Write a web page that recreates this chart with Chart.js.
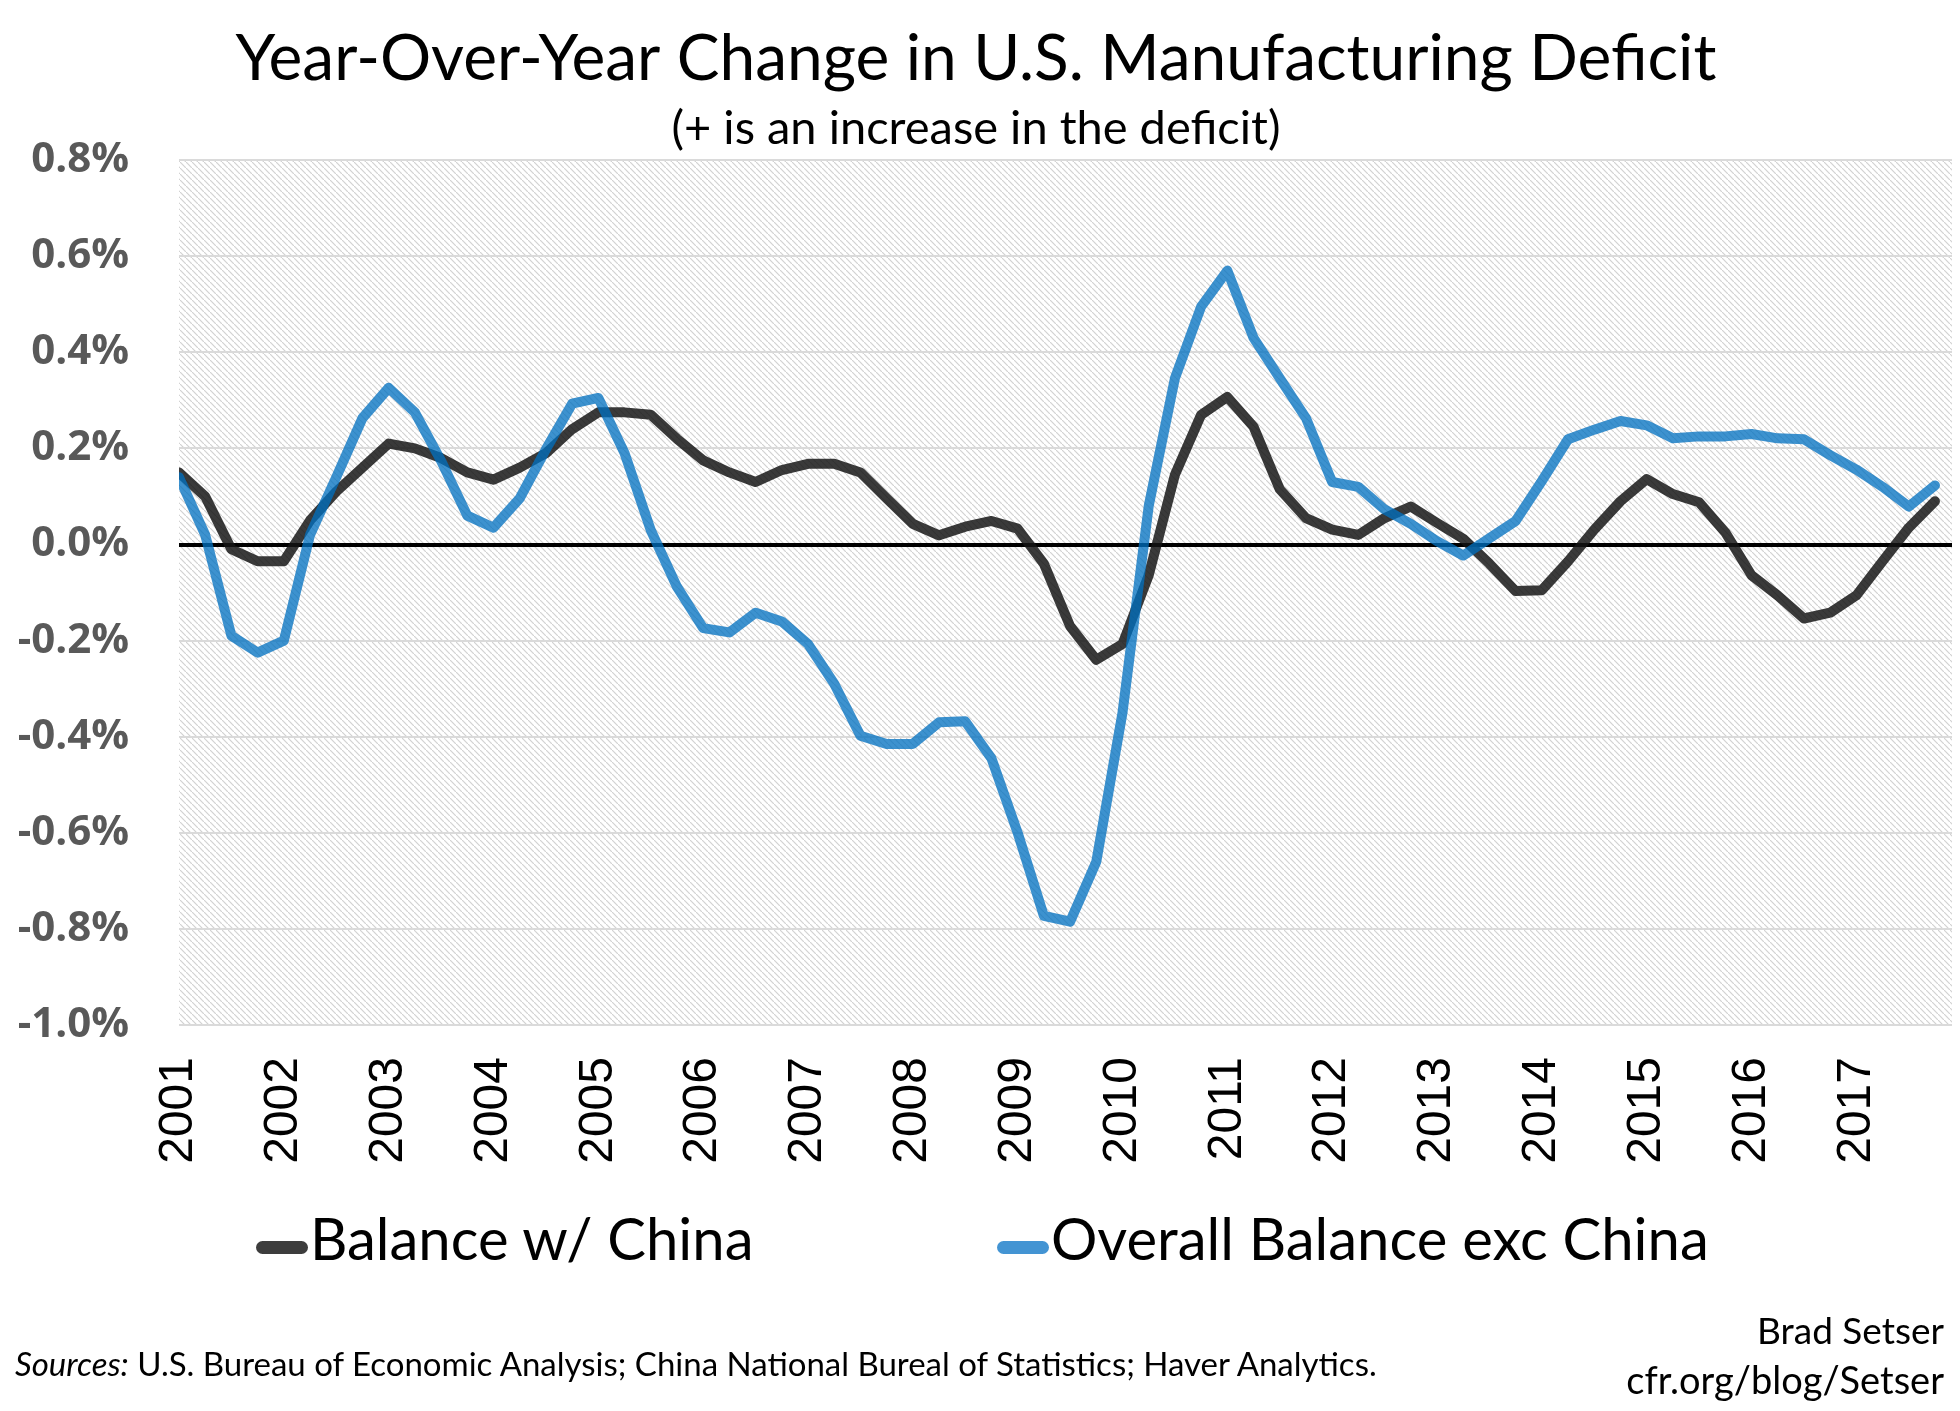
<!DOCTYPE html>
<html lang="en">
<head>
<meta charset="UTF-8">
<title>Year-Over-Year Change in U.S. Manufacturing Deficit</title>
<script src="https://cdn.jsdelivr.net/npm/chart.js"></script>
<style>
  html, body { margin: 0; padding: 0; background: #fff; }
  #wrap { position: relative; width: 1960px; height: 1411px; overflow: hidden; }
  #chart { position: absolute; left: 0; top: 0; }
  .legend-item { position: absolute; top: 1209px; display: flex; align-items: center; white-space: nowrap;
                 font-family: Lato, sans-serif; font-size: 58px; line-height: 1; color: #000; }
  .legend-item .mark { width: 52px; height: 13px; border-radius: 7px; margin-right: 2px; position: relative; top: 9px; }
  .note { position: absolute; font-family: Lato, sans-serif; line-height: 1; color: #000; white-space: nowrap; }
</style>
</head>
<body>
<div id="wrap">
  <canvas id="chart" width="1960" height="1411"></canvas>

  <div class="legend-item" style="left:256px;"><span class="mark" style="background:#3d3d3d;"></span>Balance w/ China</div>
  <div class="legend-item" style="left:997px;"><span class="mark" style="background:#4394d3;"></span>Overall Balance exc China</div>

  <div class="note" style="left:15px; top:1347px; font-size:33px;"><i>Sources:</i> U.S. Bureau of Economic Analysis; China National Bureal of Statistics; Haver Analytics.</div>
  <div class="note" style="right:16px; top:1311px; font-size:37px; text-align:right;">Brad Setser</div>
  <div class="note" style="right:16px; top:1360px; font-size:38px; text-align:right;">cfr.org/blog/Setser</div>
</div>

<script>
// tick labels, one per year (first quarter)
const years = ['2001', '2002', '2003', '2004', '2005', '2006', '2007', '2008', '2009',
               '2010', '2011', '2012', '2013', '2014', '2015', '2016', '2017'];

// quarterly categories 2001 Q1 .. 2017 Q4
const quarters = years.flatMap(y => [y + ' Q1', y + ' Q2', y + ' Q3', y + ' Q4']);

// % of GDP, year-over-year change
const balanceChina = [
  0.15, 0.10, -0.01, -0.035, -0.035, 0.05, 0.11, 0.16,
  0.21, 0.20, 0.18, 0.15, 0.135, 0.16, 0.19, 0.24,
  0.275, 0.275, 0.27, 0.22, 0.175, 0.15, 0.13, 0.155,
  0.168, 0.168, 0.15, 0.096, 0.043, 0.019, 0.037, 0.049,
  0.033, -0.04, -0.17, -0.24, -0.207, -0.064, 0.145, 0.27,
  0.307, 0.245, 0.115, 0.055, 0.031, 0.02, 0.055, 0.079,
  0.045, 0.012, -0.04, -0.097, -0.095, -0.035, 0.031, 0.09,
  0.136, 0.105, 0.088, 0.025, -0.064, -0.106, -0.154, -0.142,
  -0.106, -0.035, 0.035, 0.09
];

const balanceExChina = [
  0.14, 0.02, -0.19, -0.225, -0.20, 0.02, 0.14, 0.263,
  0.326, 0.275, 0.174, 0.06, 0.035, 0.096, 0.198, 0.293,
  0.305, 0.19, 0.03, -0.088, -0.174, -0.183, -0.142, -0.16,
  -0.207, -0.29, -0.398, -0.415, -0.415, -0.37, -0.368, -0.445,
  -0.6, -0.773, -0.785, -0.66, -0.35, 0.08, 0.346, 0.495,
  0.57, 0.43, 0.346, 0.263, 0.13, 0.12, 0.073, 0.043,
  0.007, -0.023, 0.013, 0.049, 0.132, 0.219, 0.239, 0.257,
  0.248, 0.221, 0.225, 0.225, 0.23, 0.221, 0.219, 0.186,
  0.156, 0.12, 0.079, 0.123
];

const toPoints = arr => arr.map((v, i) => ({ x: i, y: v }));
const isZero = v => Math.abs(v) < 1e-9;

// hatched background of the plot area
const hatch = {
  id: 'hatch',
  beforeDraw(chart) {
    const { ctx, chartArea: a } = chart;
    const p = document.createElement('canvas');
    p.width = 6;
    p.height = 6;
    const pc = p.getContext('2d');
    pc.strokeStyle = '#d2d2d2';
    pc.lineWidth = 1.2;
    pc.beginPath();
    pc.moveTo(-1, -1);
    pc.lineTo(7, 7);
    pc.stroke();
    ctx.save();
    ctx.fillStyle = ctx.createPattern(p, 'repeat');
    ctx.fillRect(a.left, a.top, a.right - a.left, a.bottom - a.top);
    ctx.restore();
  }
};

new Chart(document.getElementById('chart'), {
  type: 'line',
  data: {
    labels: quarters,
    datasets: [
      {
        label: 'Balance w/ China',
        data: toPoints(balanceChina),
        borderColor: 'rgba(20, 20, 20, 0.84)',
        backgroundColor: 'rgba(20, 20, 20, 0.84)',
        order: 1
      },
      {
        label: 'Overall Balance exc China',
        data: toPoints(balanceExChina),
        borderColor: 'rgba(0, 112, 192, 0.76)',
        backgroundColor: 'rgba(0, 112, 192, 0.76)',
        order: 0
      }
    ]
  },
  options: {
    responsive: false,
    devicePixelRatio: 1,
    animation: false,
    layout: { padding: { top: 0, left: 0, right: 8, bottom: 236 } },
    elements: {
      line: { borderWidth: 10, tension: 0, borderJoinStyle: 'round', borderCapStyle: 'round' },
      point: { radius: 0, hoverRadius: 0 }
    },
    plugins: {
      legend: { display: false },
      tooltip: { enabled: false },
      title: {
        display: true,
        text: 'Year-Over-Year Change in U.S. Manufacturing Deficit',
        color: '#000',
        font: { family: 'Lato', size: 64, weight: 'normal', lineHeight: 1.1 },
        padding: { top: 24, bottom: 0 }
      },
      subtitle: {
        display: true,
        text: '(+ is an increase in the deficit)',
        color: '#000',
        font: { family: 'Lato', size: 47, weight: 'normal', lineHeight: 1.1 },
        padding: { top: 9, bottom: 5 }
      }
    },
    scales: {
      x: {
        type: 'linear',
        min: 0,
        max: 67.65,
        afterBuildTicks: s => { s.ticks = years.map((y, i) => ({ value: i * 4 })); },
        afterFit: s => { s.height = 150; },
        grid: { display: false },
        border: { display: false },
        ticks: {
          autoSkip: false,
          minRotation: 90,
          maxRotation: 90,
          padding: 24,
          color: '#000',
          font: { family: '"Liberation Sans Narrow", "Liberation Sans", Arial', size: 48 },
          callback: v => years[Math.round(v / 4)]
        }
      },
      y: {
        min: -1.0,
        max: 0.8,
        afterFit: s => { s.width = 179; },
        border: { display: false },
        grid: {
          drawTicks: false,
          color: c => isZero(c.tick.value) ? '#000' : '#dadada',
          lineWidth: c => isZero(c.tick.value) ? 4 : 2
        },
        ticks: {
          stepSize: 0.2,
          padding: 50,
          color: '#595959',
          font: { family: '"Open Sans"', size: 42, weight: 'bold' },
          callback: v => v.toFixed(1) + '%'
        }
      }
    }
  },
  plugins: [hatch]
});
</script>
</body>
</html>
